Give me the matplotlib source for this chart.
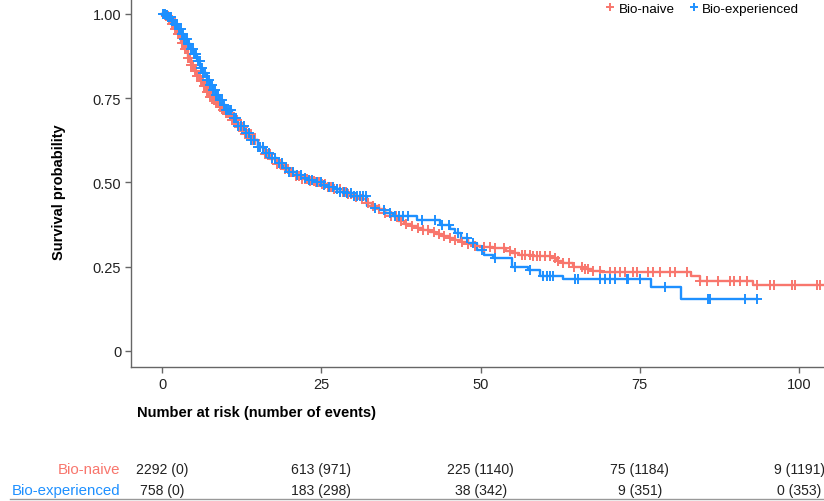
import numpy as np
import matplotlib
matplotlib.use("Agg")
import matplotlib.pyplot as plt

plt.rcParams['font.family'] = ['Liberation Sans', 'DejaVu Sans']

# Kaplan-Meier steps (time, survival after step)
naive_t = [0, 0.5, 1.0, 1.5, 2.0, 2.5, 3.0, 3.5, 4.0, 4.5, 5.0, 5.5, 6.0, 6.5, 7.0, 7.5,
           8.0, 8.5, 9.0, 9.5, 10, 11, 12, 13, 14, 15, 16, 17, 18, 19, 20, 21, 22, 23,
           24, 25, 26, 27, 28, 29, 30, 31, 32, 33, 34, 35, 36, 37, 38, 39, 40, 41, 42,
           43, 44, 45, 46, 47, 48, 49, 50, 52, 54, 55, 56, 58, 61, 62, 63, 64.5, 66,
           67.5, 69, 83, 84.5, 92.8, 104]
naive_s = [1.0, 0.995, 0.985, 0.97, 0.955, 0.94, 0.915, 0.895, 0.87, 0.85, 0.83, 0.815,
           0.80, 0.785, 0.77, 0.755, 0.745, 0.735, 0.725, 0.715, 0.705, 0.685, 0.665,
           0.645, 0.625, 0.605, 0.585, 0.57, 0.555, 0.54, 0.53, 0.52, 0.51, 0.505, 0.50,
           0.495, 0.488, 0.48, 0.472, 0.465, 0.458, 0.45, 0.44, 0.43, 0.42, 0.41, 0.40,
           0.385, 0.378, 0.372, 0.365, 0.36, 0.353, 0.347, 0.342, 0.335, 0.328, 0.322,
           0.318, 0.313, 0.31, 0.305, 0.297, 0.29, 0.285, 0.282, 0.275, 0.268, 0.262,
           0.25, 0.243, 0.237, 0.234, 0.222, 0.208, 0.196, 0.196]

exp_t = [0, 0.5, 1.0, 1.5, 2.0, 2.5, 3.0, 3.5, 4.0, 4.5, 5.0, 5.5, 6.0, 6.5, 7.0, 7.5,
         8.0, 8.5, 9.0, 9.5, 10, 11, 12, 13, 14, 15, 16, 17, 18, 19, 20, 21, 22, 23, 24,
         25, 26, 27, 28, 29, 30, 32.2, 33, 34, 35, 36.3, 40, 43.6, 45.2, 46, 47, 48,
         49.4, 50.5, 52, 55, 57.5, 59.3, 63, 76.8, 81.5, 93.4]
exp_s = [1.0, 0.998, 0.99, 0.98, 0.97, 0.955, 0.94, 0.925, 0.91, 0.895, 0.88, 0.86,
         0.84, 0.825, 0.805, 0.79, 0.775, 0.76, 0.745, 0.73, 0.715, 0.69, 0.668, 0.646,
         0.626, 0.606, 0.588, 0.572, 0.557, 0.543, 0.532, 0.522, 0.513, 0.506, 0.50,
         0.494, 0.487, 0.48, 0.473, 0.468, 0.46, 0.43, 0.425, 0.418, 0.41, 0.40, 0.388,
         0.373, 0.362, 0.35, 0.335, 0.32, 0.30, 0.285, 0.275, 0.25, 0.24, 0.223, 0.214,
         0.19, 0.154, 0.154]

# censoring times
naive_cens = [0.3, 0.6, 0.9, 1.1, 1.4, 1.6, 1.9, 2.1, 2.3, 2.5, 2.7, 2.9, 3.1, 3.3, 3.4,
              3.6, 3.8, 4.0, 4.2, 4.4, 4.6, 4.8, 4.9, 5.1, 5.3, 5.5, 5.7, 5.9, 6.1, 6.3,
              6.4, 6.6, 6.8, 7.0, 7.2, 7.4, 7.6, 7.8, 8.1, 8.3, 8.5, 8.7, 8.9, 9.1, 9.3,
              9.6, 9.8, 10.0, 10.2, 10.5, 10.7, 11.0, 11.3, 11.6, 11.8, 12.1, 12.4, 12.7,
              13.0, 13.3, 13.6, 13.9, 14.3, 14.6, 15.0, 15.4, 15.8, 16.1, 16.5, 16.9,
              17.3, 17.7, 18.1, 18.5, 18.9, 19.3, 19.8, 20.2, 20.6, 21.0, 21.5, 22.0,
              22.4, 22.8, 23.3, 23.8, 24.2, 24.6, 25.1, 25.6, 26.0, 26.5, 27.0, 27.5,
              27.9, 28.4, 28.8, 29.2, 29.7, 30.5, 31.4, 32.3, 33.1, 34.0, 35.0, 36.0,
              36.8, 37.5, 38.3, 39.2, 40.1, 41.0, 41.8, 42.7, 43.5, 44.3, 45.2, 46.0,
              47.1, 48.0, 49.2, 50.5, 51.5, 52.3, 53.6, 54.6, 55.4, 56.5, 57.0, 57.8,
              58.3, 58.8, 59.3, 60.1, 60.9, 61.7, 62.2, 63.0, 63.8, 64.6, 65.9, 66.4,
              66.9, 67.7, 68.8, 70.3, 71.1, 71.9, 72.7, 74.0, 74.5, 76.3, 77.1, 78.2,
              79.7, 80.5, 82.4, 84.5, 85.5, 87.3, 89.2, 89.7, 90.7, 91.8, 93.4, 95.4,
              96.0, 98.8, 99.4, 102.8, 103.3]
exp_cens = [0.2, 0.4, 0.6, 0.8, 1.0, 1.2, 1.4, 1.6, 1.8, 2.0, 2.2, 2.4, 2.6, 2.9, 3.1,
            3.3, 3.5, 3.7, 3.9, 4.1, 4.3, 4.6, 4.8, 5.0, 5.2, 5.4, 5.6, 5.9, 6.1, 6.3,
            6.5, 6.8, 7.0, 7.3, 7.5, 7.8, 8.0, 8.3, 8.5, 8.8, 9.1, 9.4, 9.7, 10.0, 10.3,
            10.6, 10.9, 11.3, 11.6, 12.0, 12.4, 12.8, 13.2, 13.6, 14.0, 14.5, 15.0,
            15.4, 15.9, 16.3, 16.8, 17.3, 17.8, 18.4, 18.9, 19.5, 20.0, 20.6, 21.2,
            21.8, 22.4, 23.0, 23.6, 24.3, 24.9, 25.5, 26.2, 26.8, 27.4, 28.0, 28.5,
            29.0, 29.6, 30.1, 30.6, 31.1, 31.6, 32.0, 33.5, 34.8, 35.8, 36.5, 37.2,
            37.9, 38.6, 40.8, 42.8, 44.0, 45.0, 46.5, 47.8, 48.8, 50.2, 52.2, 55.4,
            57.8, 59.8, 60.4, 60.9, 61.4, 64.8, 65.3, 68.8, 69.5, 70.3, 71.1, 73.0,
            73.2, 75.0, 79.0, 85.7, 86.0, 91.5, 93.4]

groups = ["Bio-naive", "Bio-experienced"]
colors = ["#F8766D", "#1E90FF"]
risk_times = [0, 25, 50, 75, 100]
naive_risk = ["2292 (0)", "613 (971)", "225 (1140)", "75 (1184)", "9 (1191)"]
exp_risk = ["758 (0)", "183 (298)", "38 (342)", "9 (351)", "0 (353)"]

W, H = 824, 502
fig = plt.figure(figsize=(W / 100, H / 100), dpi=100)
ax = fig.add_axes([131 / W, 134 / H, 1 - 131 / W, 368 / H])


def step_value(tt, ss, x):
    idx = np.searchsorted(tt, x, side="right") - 1
    return np.asarray(ss)[idx]


curves = [(naive_t, naive_s, naive_cens), (exp_t, exp_s, exp_cens)]
for (tt, ss, cc), col, name in zip(curves, colors, groups):
    ax.plot(tt, ss, drawstyle="steps-post", color=col, lw=1.7, zorder=2)
    cy = step_value(tt, ss, np.array(cc))
    ax.plot(cc, cy, ls="none", marker="+", ms=7, mew=1.4, color=col, zorder=3,
            label=name)

ax.set_xlim(-4.87, 103.9)
ax.set_ylim(-0.0475, 1.0445)
ax.set_xticks(risk_times)
ax.set_yticks([0, 0.25, 0.5, 0.75, 1.0])
ax.set_yticklabels(["0", "0.25", "0.50", "0.75", "1.00"])
for side in ["top", "right"]:
    ax.spines[side].set_visible(False)
for side in ["left", "bottom"]:
    ax.spines[side].set_color("#666666")
    ax.spines[side].set_linewidth(1.0)
ax.tick_params(colors="#666666", labelcolor="#222222", labelsize=10.5, length=4,
               width=1, pad=3)
ax.set_ylabel("Survival probability", fontsize=10.5, fontweight="bold")
ax.yaxis.set_label_coords(-0.094, 0.478)

leg = ax.legend(loc="upper right", bbox_to_anchor=(0.976, 1.012), ncol=2,
                frameon=False, fontsize=9.6, handletextpad=0.15, columnspacing=0.9,
                handlelength=1.0, markerscale=0.85, borderaxespad=0.2)

fig.text(137 / W, 1 - 413 / H, "Number at risk (number of events)", fontsize=10.5,
         fontweight="bold", va="center", ha="left")

row_y = [470, 491]
for label, col, vals, y in zip(groups, colors, [naive_risk, exp_risk], row_y):
    fig.text(120 / W, 1 - y / H, label, color=col, fontsize=10.8, ha="right",
             va="center")
    for t, v in zip(risk_times, vals):
        xd = ax.transData.transform((t, 0))[0]
        fig.text(xd / W, 1 - y / H, v, fontsize=10.1, ha="center", va="center",
                 color="#222222")

fig.add_artist(plt.Line2D([10 / W, 1.0], [1 - 500 / H, 1 - 500 / H],
                          color="#999999", lw=1.0))

fig.savefig("out.png", dpi=100)
